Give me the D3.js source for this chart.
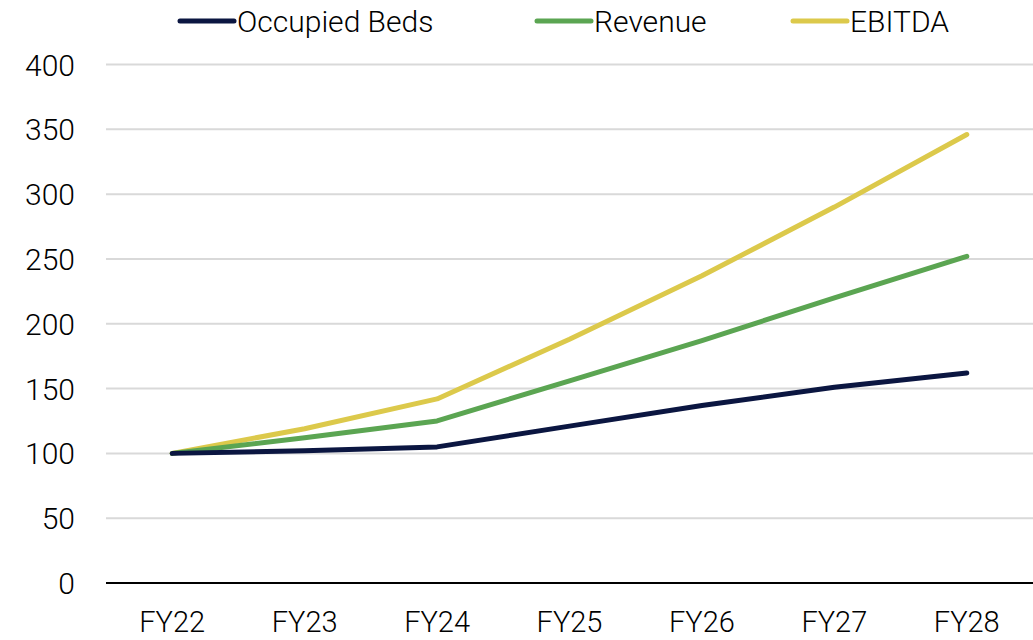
<!DOCTYPE html>
<html>
<head>
<meta charset="utf-8">
<script src="https://cdn.jsdelivr.net/npm/d3@7"></script>
<style>
  body { margin: 0; background: #fff; }
  text { font-family: Roboto, "Liberation Sans", sans-serif; font-weight: 300; fill: #000; }
</style>
</head>
<body>
<svg id="chart"></svg>
<script>
const years = ["FY22", "FY23", "FY24", "FY25", "FY26", "FY27", "FY28"];
const occupiedBeds = [100, 102, 105, 121, 137, 151, 162];
const revenue = [100, 112, 125, 156, 187, 220, 252];
const ebitda = [100, 119, 142, 188, 237, 290, 346];
const yTicks = [0, 50, 100, 150, 200, 250, 300, 350, 400];

const seriesNames = ["Occupied Beds", "Revenue", "EBITDA"];
const seriesColors = ["#0b1641", "#5ba552", "#dcc94b"];

const width = 1033, height = 640;
const svg = d3.select("#chart").attr("width", width).attr("height", height);

const x = d3.scalePoint().domain(years).range([106, 1033]).padding(0.5);
const y = d3.scaleLinear().domain([0, 400]).range([583, 64.5]);

// gridlines
svg.selectAll("line.grid")
    .data(yTicks.filter(t => t > 0))
    .enter().append("line")
    .attr("x1", 106).attr("x2", 1033)
    .attr("y1", d => y(d)).attr("y2", d => y(d))
    .style("stroke", "#d9d9d9").style("stroke-width", 2);

// y labels
svg.selectAll("text.ytick")
    .data(yTicks)
    .enter().append("text")
    .attr("x", 75).attr("y", d => y(d) + 11)
    .attr("text-anchor", "end")
    .style("font-size", "30px")
    .text(d => d);

// x axis baseline
svg.append("line")
    .attr("x1", 106).attr("x2", 1033)
    .attr("y1", y(0)).attr("y2", y(0))
    .style("stroke", "#000").style("stroke-width", 2);

// x labels
svg.selectAll("text.xtick")
    .data(years)
    .enter().append("text")
    .attr("x", d => x(d)).attr("y", 632)
    .attr("text-anchor", "middle")
    .style("font-size", "29px")
    .text(d => d);

const line = d3.line().x((d, i) => x(years[i])).y(d => y(d));
const allSeries = [occupiedBeds, revenue, ebitda];

// draw ebitda first so navy sits on top at the start
[2, 1, 0].forEach(i => {
    svg.append("path")
        .datum(allSeries[i])
        .attr("d", line)
        .style("fill", "none")
        .style("stroke", seriesColors[i])
        .style("stroke-width", 5)
        .style("stroke-linecap", "round")
        .style("stroke-linejoin", "round");
});

// legend
const legendX = [180, 537, 793];
seriesNames.forEach((name, i) => {
    const g = svg.append("g").attr("transform", `translate(${legendX[i]},21)`);
    g.append("line")
        .attr("x1", 0).attr("x2", 54)
        .style("stroke", seriesColors[i])
        .style("stroke-width", 5)
        .style("stroke-linecap", "round");
    g.append("text")
        .attr("x", 57).attr("y", 11)
        .style("font-size", "30px")
        .text(name);
});
</script>
</body>
</html>
